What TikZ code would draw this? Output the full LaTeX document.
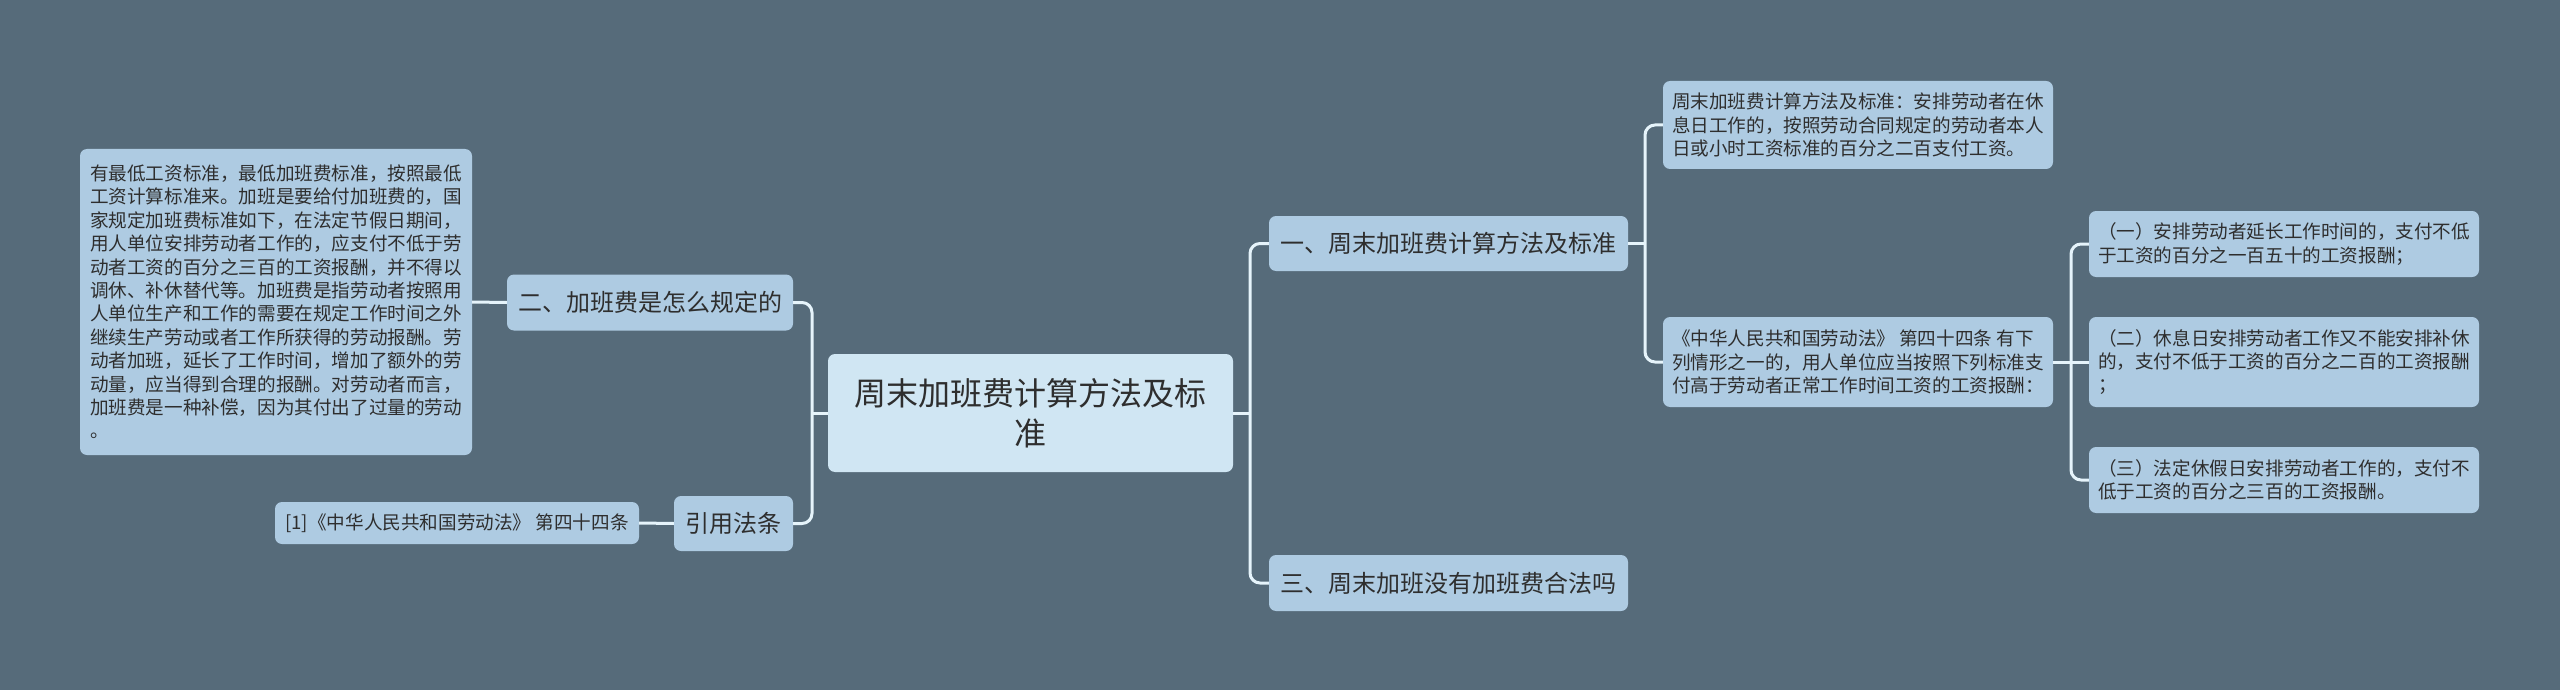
\documentclass[tikz,border=0pt]{standalone}
\usepackage{fontspec}
\newfontfamily\cjk{Noto Sans CJK SC}
\definecolor{bg}{HTML}{566B7A}
\definecolor{nodefill}{HTML}{AECBE2}
\definecolor{rootfill}{HTML}{D0E6F3}
\definecolor{linec}{HTML}{E6F4FB}
\definecolor{txt}{HTML}{2E2E2E}
\tikzset{
  base/.style={rounded corners=7pt, fill=nodefill, text=txt, inner sep=0pt, font=\cjk},
  root/.style={base, fill=rootfill, align=center, font=\cjk\fontsize{32}{40}\selectfont},
  topic/.style={base, font=\cjk\fontsize{24}{30}\selectfont},
  leaf/.style={base, align=left, font=\cjk\fontsize{18.6}{23.4}\selectfont},
  conn/.style={draw=linec, line width=3pt, rounded corners=10pt},
}
\begin{document}
\begin{tikzpicture}[x=1pt,y=-1pt]
\useasboundingbox (0,0) rectangle (2560,690);
\fill[bg] (0,0) rectangle (2560,690);

% nodes
\node[root, minimum width=405pt, minimum height=118pt] (root) at (1030.5,413) {周末加班费计算方法及标\\准};

\node[topic, minimum width=359pt, minimum height=55pt] (n1) at (1448.5,243.5) {一、周末加班费计算方法及标准};
\node[topic, minimum width=359pt, minimum height=56pt] (n3) at (1448.5,583) {三、周末加班没有加班费合法吗};
\node[topic, minimum width=286pt, minimum height=56pt] (n2) at (650,302.5) {二、加班费是怎么规定的};
\node[topic, minimum width=119pt, minimum height=55pt] (ref) at (733.5,523.5) {引用法条};

\node[leaf, minimum width=364pt, minimum height=42pt] (refitem) at (457,523) {[1]《中华人民共和国劳动法》 第四十四条};

\node[leaf, minimum width=392pt, minimum height=306pt] (leftbig) at (276,302) {有最低工资标准，最低加班费标准，按照最低\\工资计算标准来。加班是要给付加班费的，国\\家规定加班费标准如下，在法定节假日期间，\\用人单位安排劳动者工作的，应支付不低于劳\\动者工资的百分之三百的工资报酬，并不得以\\调休、补休替代等。加班费是指劳动者按照用\\人单位生产和工作的需要在规定工作时间之外\\继续生产劳动或者工作所获得的劳动报酬。劳\\动者加班，延长了工作时间，增加了额外的劳\\动量，应当得到合理的报酬。对劳动者而言，\\加班费是一种补偿，因为其付出了过量的劳动\\。};

\node[leaf, minimum width=390pt, minimum height=88pt] (r1a) at (1858,125) {周末加班费计算方法及标准：安排劳动者在休\\息日工作的，按照劳动合同规定的劳动者本人\\日或小时工资标准的百分之二百支付工资。};
\node[leaf, minimum width=390pt, minimum height=90pt] (r1b) at (1858,362) {《中华人民共和国劳动法》 第四十四条 有下\\列情形之一的，用人单位应当按照下列标准支\\付高于劳动者正常工作时间工资的工资报酬：};

\node[leaf, minimum width=390pt, minimum height=66pt] (s1) at (2284,244) {（一）安排劳动者延长工作时间的，支付不低\\于工资的百分之一百五十的工资报酬；};
\node[leaf, minimum width=390pt, minimum height=90pt] (s2) at (2284,362) {（二）休息日安排劳动者工作又不能安排补休\\的，支付不低于工资的百分之二百的工资报酬\\；};
\node[leaf, minimum width=390pt, minimum height=66pt] (s3) at (2284,480) {（三）法定休假日安排劳动者工作的，支付不\\低于工资的百分之三百的工资报酬。};

% junctions
\coordinate (jc) at (1250,413);
\coordinate (jl) at (812,413);
\coordinate (j1) at (1645,243.5);
\coordinate (j2) at (2071,362);

% connectors
\draw[conn] (root.east) -- (jc);
\draw[conn] (n1.west) -| (jc) |- (n3.west);
\draw[conn] (root.west) -- (jl);
\draw[conn] (n2.east) -| (jl) |- (ref.east);
\draw[conn] (n1.east) -- (j1);
\draw[conn] (r1a.west) -| (j1) |- (r1b.west);
\draw[conn] (r1b.east) -- (s2.west);
\draw[conn] (s1.west) -| (j2) |- (s3.west);
\draw[conn] (leftbig.east) -- (n2.west);
\draw[conn] (refitem.east) -- (ref.west);
\end{tikzpicture}
\end{document}
